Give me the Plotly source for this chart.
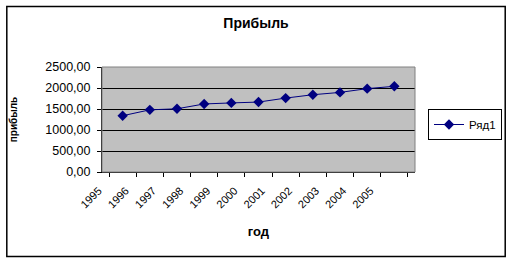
import plotly.graph_objects as go

years = ["1995", "1996", "1997", "1998", "1999", "2000", "2001", "2002", "2003", "2004", "2005"]
profit = [1340, 1480, 1505, 1620, 1645, 1665, 1760, 1840, 1895, 1985, 2040]
series_name = "Ряд1"
title = "Прибыль"
x_title = "год"
y_title = "прибыль"

W, H = 513, 263
L, R, T, B = 102, 97, 67, 91
pw, ph = W - L - R, H - T - B

def px(x):
    return (x - L) / pw

def py(y):
    return (H - B - y) / ph

fig = go.Figure()
fig.add_trace(go.Scatter(
    x=years, y=profit, name=series_name, mode="lines+markers",
    line=dict(color="#000080", width=1),
    marker=dict(symbol="diamond", size=8, color="#000080"),
))

font = "Liberation Sans, Arial, sans-serif"
fig.update_layout(
    width=W, height=H,
    margin=dict(l=L, r=R, t=T, b=B),
    paper_bgcolor="white", plot_bgcolor="#C0C0C0",
    separators=", ",
    font=dict(family=font, size=11, color="black"),
    title=dict(text="<b>" + title + "</b>", x=256 / W, xanchor="center",
               y=1 - 23 / H, yanchor="middle", font=dict(size=14)),
    showlegend=True,
    legend=dict(x=px(428), y=py(109), xanchor="left", yanchor="top",
                bordercolor="black", borderwidth=1, bgcolor="white",
                font=dict(size=11.5), itemwidth=30, tracegroupgap=0),
    xaxis=dict(
        type="category", tickson="boundaries", ticks="outside", ticklen=4,
        tickcolor="black", showline=True, linecolor="black", linewidth=1,
        mirror=False, showgrid=False, tickangle=-45, tickfont=dict(size=11),
        ticklabelshift=-24, ticklabelstandoff=7,
        title=dict(text="<b>" + x_title + "</b>", font=dict(size=13), standoff=17),
    ),
    yaxis=dict(
        range=[0, 2500], dtick=500, tickformat=".2f", ticks="outside", ticklen=4,
        tickcolor="black", showline=True, linecolor="black", linewidth=1,
        showgrid=True, gridcolor="black", gridwidth=1, zeroline=False,
        tickfont=dict(size=12.5), ticklabelstandoff=4,
        title=dict(text="<b>" + y_title + "</b>", font=dict(size=10), standoff=25),
    ),
    shapes=[
        dict(type="rect", xref="paper", yref="paper", x0=0, y0=0, x1=1, y1=1,
             line=dict(color="#808080", width=1), layer="above"),
        dict(type="rect", xref="paper", yref="paper",
             x0=px(6.5), x1=px(506.5), y0=py(6.5), y1=py(256.5),
             line=dict(color="black", width=1.5), layer="above"),
    ],
)

fig.write_html("out.html")
